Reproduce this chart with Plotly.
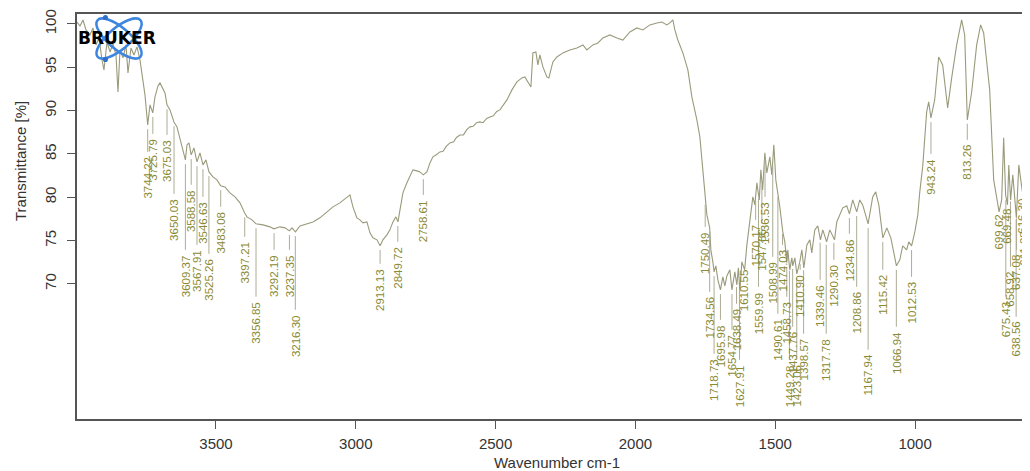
import base64
import numpy as np
import plotly.graph_objects as go

# ---------------- data ----------------
wavenumber = [3997.0, 3986.3, 3975.5, 3964.8, 3950.5, 3939.8, 3929.1, 3918.4, 3907.6, 3900.5,
              3889.7, 3879.0, 3868.3, 3857.6, 3850.4, 3843.3, 3832.5, 3821.8, 3814.7, 3804.0,
              3793.2, 3782.5, 3771.8, 3761.1, 3753.9, 3744.2, 3736.0, 3726.0, 3718.1, 3707.4,
              3700.3, 3682.4, 3675.2, 3664.5, 3650.2, 3639.5, 3628.7, 3618.0, 3609.4, 3603.7,
              3596.5, 3588.7, 3578.7, 3568.0, 3557.2, 3546.5, 3535.8, 3525.1, 3510.8, 3496.5,
              3483.2, 3467.9, 3450.0, 3432.1, 3414.2, 3397.4, 3389.2, 3371.3, 3357.0, 3332.0,
              3307.0, 3292.7, 3271.2, 3253.4, 3237.3, 3228.3, 3215.8, 3199.7, 3174.7, 3153.2,
              3128.2, 3103.2, 3081.7, 3056.7, 3038.8, 3020.9, 3010.2, 2995.9, 2985.2, 2974.5,
              2960.2, 2949.4, 2938.7, 2924.4, 2912.9, 2903.0, 2888.7, 2877.9, 2867.2, 2856.5,
              2849.3, 2842.2, 2831.5, 2817.2, 2806.4, 2795.7, 2781.4, 2770.7, 2758.5, 2745.7,
              2734.9, 2724.2, 2712.0, 2699.2, 2688.0, 2676.0, 2663.4, 2650.0, 2640.0, 2627.7,
              2615.0, 2603.0, 2591.9, 2580.0, 2568.0, 2556.2, 2545.0, 2532.0, 2520.5, 2508.0,
              2496.0, 2484.6, 2459.6,
              2441.7, 2423.9, 2406.0, 2395.3, 2384.5, 2373.8, 2366.7, 2356.0, 2348.8, 2341.7,
              2330.9, 2316.6, 2309.6, 2295.2, 2280.9, 2259.4, 2234.5, 2209.4, 2187.9, 2173.6,
              2152.1, 2134.3, 2116.4, 2091.4, 2066.4, 2044.9, 2019.9, 1994.8, 1973.4, 1948.4,
              1923.3, 1905.5, 1887.6, 1876.9, 1866.1, 1859.0, 1848.3, 1830.4, 1812.5, 1798.2,
              1780.3, 1769.6, 1759.0, 1750.6, 1744.5, 1734.5, 1730.3, 1723.1, 1718.8, 1712.4,
              1705.2, 1696.0, 1687.3, 1680.2, 1673.0, 1662.3, 1654.9, 1644.5, 1637.3, 1631.9,
              1626.6, 1619.4, 1609.4, 1601.5, 1590.9, 1580.1, 1572.9, 1565.8, 1557.2, 1551.5,
              1545.1, 1537.2, 1530.1, 1519.4, 1512.2, 1505.1, 1498.0, 1490.8, 1483.7, 1473.0,
              1465.8, 1458.7, 1455.1, 1448.0, 1440.7, 1437.2, 1429.9, 1422.9, 1412.2, 1404.9,
              1397.8, 1387.0, 1376.3, 1369.3, 1358.6, 1347.9, 1338.4, 1330.0, 1316.2, 1305.0,
              1288.0, 1280.0, 1269.3, 1258.6, 1244.3, 1234.7, 1222.9, 1208.6, 1197.9, 1187.2,
              1167.9, 1151.5, 1140.8, 1129.6, 1115.3, 1101.0, 1086.7, 1066.7, 1054.5, 1044.3,
              1030.0, 1022.4, 1012.4, 1000.9, 990.2, 983.5, 972.8, 958.5, 951.3, 943.2,
              929.9, 915.6, 901.3, 883.4, 869.1, 851.2, 833.4, 822.6, 813.2, 797.6,
              779.7, 765.4, 754.7, 733.2, 718.9, 699.5, 690.3, 683.2, 676.1, 669.5,
              664.8, 658.4, 650.5, 637.7, 629.1, 616.2, 611.2, 604.1, 597.4, 590.2]

transmittance = [100.23, 99.77, 100.46, 99.31, 98.73, 99.54, 97.58, 98.39, 95.85, 94.69,
                 97.92, 96.77, 97.69, 96.42, 92.15, 97.00, 96.08, 97.58, 94.35, 97.23,
                 96.42, 97.35, 95.85, 93.54, 91.81, 88.35, 90.66, 89.73, 91.58, 92.85,
                 93.19, 92.04, 90.66, 90.08, 88.69, 88.12, 86.62, 85.46, 84.31, 86.04,
                 86.27, 84.89, 85.69, 84.08, 85.12, 83.73, 84.31, 82.92, 82.35, 82.00,
                 81.31, 81.19, 80.50, 80.04, 79.35, 78.19, 77.73, 77.39, 76.93, 76.81,
                 76.58, 76.35, 76.58, 76.46, 76.12, 76.46, 76.00, 76.69, 76.93, 77.15,
                 77.62, 78.31, 78.89, 79.35, 79.81, 80.27, 78.89, 77.62, 77.39, 77.04,
                 77.15, 75.89, 75.31, 75.08, 74.39, 75.08, 75.66, 76.23, 77.15, 77.73,
                 77.15, 78.54, 80.50, 81.66, 82.35, 83.16, 83.04, 82.92, 82.58, 82.92,
                 83.96, 84.66, 84.90, 85.23, 85.30, 85.90, 86.27, 86.40, 86.90, 87.19,
                 87.20, 87.80, 88.12, 88.20, 88.60, 88.69, 88.60, 89.10, 89.27, 89.40,
                 89.90, 90.08, 91.23,
                 92.39, 93.31, 93.77, 93.89, 93.31, 92.73, 96.66, 96.77, 95.27, 96.42,
                 95.04, 93.89, 93.77, 95.62, 96.19, 96.66, 97.00, 97.23, 97.58, 97.00,
                 97.58, 97.81, 98.39, 98.73, 98.39, 98.15, 99.08, 99.54, 99.31, 99.89,
                 100.12, 100.23, 99.89, 100.12, 100.46, 99.31, 98.15, 96.66, 94.69, 91.58,
                 88.92, 86.96, 83.16, 79.69, 77.96, 76.46, 73.92, 72.54, 71.39, 72.08,
                 70.46, 69.31, 70.81, 69.77, 70.92, 71.62, 69.31, 71.39, 69.89, 71.85,
                 69.08, 72.54, 71.62, 74.50, 77.62, 80.04, 79.12, 81.66, 79.69, 83.16,
                 80.85, 85.12, 82.81, 84.66, 82.58, 86.04, 82.00, 80.62, 78.89, 76.00,
                 74.85, 72.43, 73.92, 71.62, 73.00, 72.08, 73.00, 71.16, 72.54, 73.92,
                 71.85, 74.50, 75.08, 73.58, 76.23, 76.69, 75.08, 76.23, 74.85, 76.23,
                 75.08, 77.15, 78.08, 78.77, 79.00, 78.08, 79.69, 78.31, 79.69, 79.12,
                 76.93, 80.04, 80.62, 79.12, 75.31, 76.46, 75.31, 72.08, 72.77, 74.39,
                 73.92, 74.85, 74.39, 76.00, 77.96, 80.50, 83.50, 89.85, 91.00, 89.16,
                 91.23, 96.19, 95.27, 90.31, 93.77, 97.58, 100.46, 98.73, 88.92, 92.15,
                 97.58, 99.89, 98.96, 92.39, 82.00, 78.31, 79.69, 86.85, 80.27, 79.12,
                 83.73, 79.69, 82.58, 77.62, 83.73, 80.62, 81.43, 89.16, 87.77, 90.08]

# peak picks: wavenumber label and the transmittance level where the label text starts
peak_labels = ["3744.22", "3725.79", "3675.03", "3650.03", "3609.37", "3588.58", "3567.91",
               "3546.63", "3525.26", "3483.08", "3397.21", "3356.85", "3292.19", "3237.35",
               "3216.30", "2913.13", "2849.72", "2758.61", "1750.49", "1734.56", "1718.73",
               "1695.98", "1654.77", "1638.49", "1627.91", "1610.55", "1570.17", "1559.99",
               "1547.86", "1536.53", "1508.99", "1490.61", "1474.03", "1458.73", "1449.28",
               "1437.76", "1423.06", "1410.90", "1398.57", "1339.46", "1317.78", "1290.30",
               "1234.86", "1208.86", "1167.94", "1115.42", "1066.94", "1012.53", "943.24",
               "813.26", "699.62", "675.43", "669.48", "658.92", "637.08", "638.56",
               "616.30", "611.28"]
label_level = [84.89, 86.96, 86.85, 80.04, 73.58, 81.08, 74.15,
               79.69, 73.12, 78.54, 75.08, 68.16, 73.58, 73.58,
               66.66, 71.96, 74.50, 79.92, 76.23, 68.73, 61.58,
               65.50, 64.35, 67.35, 60.89, 71.96, 77.04, 69.31,
               76.58, 79.69, 72.77, 66.20, 74.15, 68.16, 60.89,
               64.70, 60.89, 71.27, 63.89, 70.12, 63.89, 72.43,
               75.43, 69.31, 62.04, 71.27, 64.70, 70.46, 84.66,
               86.27, 78.19, 68.16, 78.89, 71.62, 73.58, 65.85,
               80.04, 76.23]

x_ticks = [3500, 3000, 2500, 2000, 1500, 1000]
y_ticks = [70, 75, 80, 85, 90, 95, 100]

# ---------------- styles ----------------
CURVE = "#9a9a7c"
LABEL = "#8a8a34"
PICKLINE = "#acac96"
AXIS_TXT = "#333333"
FONT = "Liberation Sans, Arial, sans-serif"

fig = go.Figure()
fig.add_trace(go.Scatter(x=wavenumber, y=transmittance, mode="lines",
                         line=dict(color=CURVE, width=1.1), hoverinfo="skip",
                         showlegend=False))

# pick lines from just below the curve down to the label
wn_arr = np.array(wavenumber)[::-1]
tr_arr = np.array(transmittance)[::-1]
lx, ly = [], []
for lab, lev in zip(peak_labels, label_level):
    p = float(lab)
    top = float(np.interp(p, wn_arr, tr_arr)) - 0.5
    bot = lev + 0.35
    if top > bot:
        lx += [p, p, None]
        ly += [top, bot, None]
fig.add_trace(go.Scatter(x=lx, y=ly, mode="lines", line=dict(color=PICKLINE, width=1),
                         hoverinfo="skip", showlegend=False))

for lab, lev in zip(peak_labels, label_level):
    fig.add_annotation(x=float(lab), y=lev, text=lab, showarrow=False, textangle=-90,
                       xanchor="center", yanchor="top", xref="x", yref="y",
                       font=dict(family=FONT, size=11.5, color=LABEL))

# Bruker logo (rings) + text
svg = ('<svg xmlns="http://www.w3.org/2000/svg" width="60" height="50" viewBox="0 0 60 50">'
       '<ellipse cx="30" cy="25" rx="29" ry="11" fill="none" stroke="#3d86e0" stroke-width="2.6" transform="rotate(40 30 25)"/>'
       '<ellipse cx="30" cy="25" rx="29" ry="11" fill="none" stroke="#3d86e0" stroke-width="2.6" transform="rotate(-40 30 25)"/>'
       '<circle cx="16" cy="3.5" r="2.6" fill="#2f6fc8"/><circle cx="16" cy="46.5" r="2.6" fill="#2f6fc8"/>'
       '</svg>')
src = "data:image/svg+xml;base64," + base64.b64encode(svg.encode()).decode()
fig.add_layout_image(dict(source=src, xref="paper", yref="paper", x=0.0136, y=1.0,
                          sizex=0.061, sizey=0.121, xanchor="left", yanchor="top",
                          sizing="stretch", layer="above"))
fig.add_annotation(x=0.042, y=0.94, xref="paper", yref="paper", text="<b>BRUKER</b>",
                   showarrow=False, xanchor="center", yanchor="middle",
                   font=dict(family="DejaVu Sans", size=17, color="#000000"))

# axis titles placed like the original
fig.add_annotation(x=-0.0598, y=0.637, xref="paper", yref="paper", text="Transmittance [%]",
                   showarrow=False, textangle=-90, xanchor="center", yanchor="middle",
                   font=dict(family=FONT, size=15, color=AXIS_TXT))
fig.add_annotation(x=0.5037, y=-0.1086, xref="paper", yref="paper", text="Wavenumber cm-1",
                   showarrow=False, xanchor="center", yanchor="middle",
                   font=dict(family=FONT, size=15, color=AXIS_TXT))

# the page body keeps its default 8px margin, so the margins below compensate for it
fig.update_layout(
    width=1030, height=471,
    margin=dict(l=69, r=8, t=6, b=60, autoexpand=False),
    paper_bgcolor="white", plot_bgcolor="white",
    font=dict(family=FONT, color=AXIS_TXT),
    showlegend=False,
    xaxis=dict(range=[3997, 589], showgrid=False, zeroline=False, automargin=False,
               showline=True, mirror=True, linecolor="#555555", linewidth=1.5,
               ticks="outside", ticklen=8, tickcolor="#555555", tickwidth=1.3,
               tickvals=x_ticks, ticktext=[str(v) for v in x_ticks], ticklabelstandoff=2,
               tickfont=dict(family=FONT, size=15, color=AXIS_TXT)),
    yaxis=dict(range=[54.4, 101.15], showgrid=False, zeroline=False, automargin=False,
               showline=True, mirror=False, linecolor="#555555", linewidth=1.5,
               ticks="outside", ticklen=8, tickcolor="#555555", tickwidth=1.3,
               tickvals=y_ticks, ticktext=[str(v) for v in y_ticks], tickangle=-90,
               ticklabelstandoff=5,
               tickfont=dict(family=FONT, size=15, color=AXIS_TXT)),
)

fig.write_html("out.html")
